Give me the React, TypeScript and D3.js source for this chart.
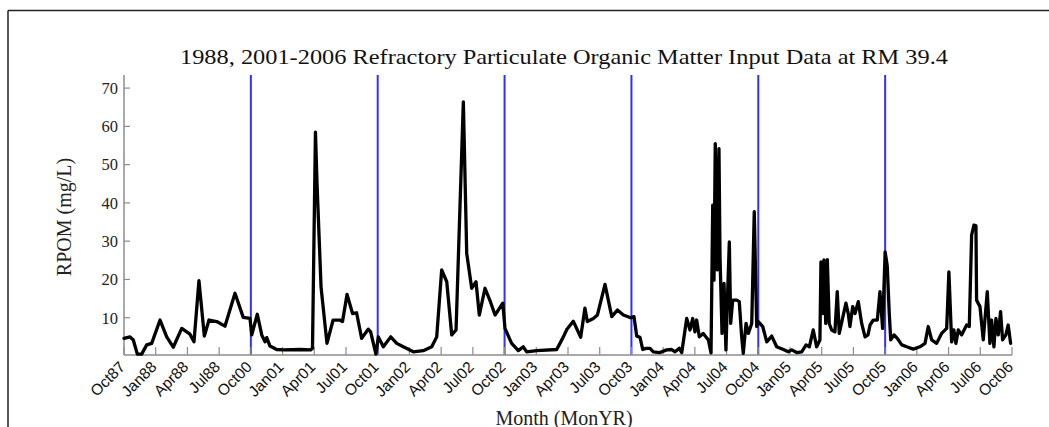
import React from 'react';
import * as d3 from 'd3';

// Water years plotted (compressed axis: each year = 12 months, starting in October)
const waterYears = [1988, 2001, 2002, 2003, 2004, 2005, 2006];

const tickLabels = [
  'Oct87', 'Jan88', 'Apr88', 'Jul88', 'Oct00', 'Jan01', 'Apr01', 'Jul01', 'Oct01',
  'Jan02', 'Apr02', 'Jul02', 'Oct02', 'Jan03', 'Apr03', 'Jul03', 'Oct03', 'Jan04',
  'Apr04', 'Jul04', 'Oct04', 'Jan05', 'Apr05', 'Jul05', 'Oct05', 'Jan06', 'Apr06',
  'Jul06', 'Oct06',
];

const yTicks = [10, 20, 30, 40, 50, 60, 70];

// months since Oct 1 of each water year, and RPOM (mg/L)
const months1988 = [0, 0.57, 0.88, 1.26, 1.67, 2.15, 2.62, 3.41, 4.04, 4.66, 5.46, 6.24, 6.62, 7.09, 7.6, 8.04, 8.77, 9.55, 10.5, 11.28, 11.92];
const rpom1988 = [4.6, 5.0, 4.2, 0.5, 0.5, 2.9, 3.3, 9.4, 5.0, 2.3, 7.2, 5.7, 3.7, 19.7, 5.2, 9.4, 9.0, 7.8, 16.4, 10.1, 9.8];

const months2001 = [0.08, 0.61, 1.03, 1.34, 1.5, 1.81, 2.44, 3.07, 4.65, 5.66, 5.83, 6.11, 6.26, 6.64, 7.2, 7.78, 8.4, 8.67, 9.1, 9.62, 10.0, 10.48, 11.1, 11.33, 11.83];
const rpom2001 = [5.5, 10.9, 5.5, 3.7, 4.8, 2.6, 1.7, 1.6, 1.7, 1.6, 2.0, 58.5, 45, 18, 3.3, 9.4, 9.4, 9.0, 16.1, 11.1, 11.3, 4.6, 7.0, 6.3, 0.5];

const months2002 = [0.06, 0.53, 1.23, 1.8, 2.42, 3.37, 4.31, 5.11, 5.58, 6.05, 6.53, 7.0, 7.41, 8.1, 8.42, 8.89, 9.3, 9.61, 10.15, 10.62, 11.1, 11.83];
const rpom2002 = [5.0, 2.4, 5.0, 3.3, 2.4, 1.1, 1.4, 2.4, 5.0, 22.5, 19.4, 5.5, 6.8, 66.4, 26.8, 17.7, 19.4, 10.7, 17.7, 14.5, 10.7, 13.8];

const months2003 = [0.04, 0.67, 1.3, 1.77, 2.09, 3.04, 4.93, 5.24, 5.56, 5.9, 6.5, 7.2, 7.6, 7.83, 8.4, 8.78, 9.5, 10.14, 10.67, 11.24, 11.93];
const rpom2003 = [7.2, 3.3, 1.4, 2.4, 1.1, 1.4, 1.7, 3.3, 5.0, 7.0, 9.1, 4.9, 12.5, 9.0, 9.8, 10.7, 18.7, 10.3, 12.0, 10.7, 10.0];

const months2004 = [0.24, 0.5, 0.81, 1.07, 1.38, 1.76, 2.07, 2.7, 3.34, 3.81, 4.12, 4.53, 4.76, 5.23, 5.54, 5.8, 6.01, 6.17, 6.42, 6.79, 7.28, 7.53, 7.69, 7.81, 7.93, 8.12, 8.28, 8.38, 8.57, 8.76, 8.94, 9.07, 9.26, 9.39, 9.58, 9.96, 10.2, 10.43, 10.58, 10.84, 11.06, 11.38, 11.62, 11.85];
const rpom2004 = [10.3, 5.2, 4.9, 1.7, 2.0, 2.0, 1.1, 0.9, 1.6, 1.7, 1.1, 2.0, 0.9, 9.8, 6.8, 9.8, 6.3, 9.4, 5.0, 5.9, 4.2, 0.8, 39.4, 19.8, 55.5, 22.5, 54.2, 25.9, 5.9, 19.0, 1.6, 13.8, 29.8, 8.5, 14.6, 14.6, 14.2, 5.0, 0.7, 8.5, 5.9, 8.5, 37.7, 7.7];

const months2005 = [0.0, 0.42, 0.8, 1.27, 1.74, 2.37, 2.84, 3.16, 3.63, 4.11, 4.52, 4.83, 5.2, 5.52, 5.83, 5.93, 6.09, 6.21, 6.38, 6.53, 6.71, 6.94, 7.25, 7.47, 7.66, 8.04, 8.29, 8.51, 8.67, 8.93, 9.15, 9.46, 9.78, 10.1, 10.38, 10.57, 10.88, 11.26, 11.51, 11.76];
const rpom2005 = [9.0, 7.7, 3.7, 5.2, 2.4, 1.7, 1.1, 1.6, 0.9, 1.1, 2.9, 2.4, 6.8, 2.4, 4.2, 24.6, 11.1, 25.1, 8.5, 25.2, 8.5, 6.8, 6.3, 16.8, 5.9, 10.7, 13.8, 11.1, 7.7, 12.9, 11.1, 14.2, 8.5, 5.0, 5.5, 8.1, 9.4, 9.4, 16.8, 7.2];

const months2006 = [0.0, 0.2, 0.39, 0.53, 0.84, 1.15, 1.57, 2.04, 2.66, 3.29, 3.77, 4.08, 4.4, 4.87, 5.34, 5.82, 6.03, 6.29, 6.5, 6.69, 6.92, 7.23, 7.71, 7.96, 8.18, 8.4, 8.59, 8.65, 8.97, 9.28, 9.66, 9.91, 10.07, 10.29, 10.48, 10.7, 10.92, 11.11, 11.42, 11.64, 11.87];
const rpom2006 = [27.2, 23.5, 11.1, 4.2, 5.5, 4.6, 2.9, 2.4, 1.8, 2.4, 3.3, 7.7, 4.2, 3.3, 5.9, 7.2, 22.0, 3.7, 6.8, 3.3, 6.8, 5.5, 8.1, 7.7, 31.6, 34.2, 34.0, 14.6, 12.9, 4.2, 16.8, 3.3, 9.4, 2.4, 9.8, 5.5, 11.6, 4.2, 5.5, 8.1, 3.3];

const monthSeries = [months1988, months2001, months2002, months2003, months2004, months2005, months2006];
const valueSeries = [rpom1988, rpom2001, rpom2002, rpom2003, rpom2004, rpom2005, rpom2006];

const title = '1988, 2001-2006 Refractory Particulate Organic Matter Input Data at RM 39.4';

export default function App() {
  const W = 1049;
  const H = 427;
  const left = 124;
  const right = 1012;
  const axisTop = 75;
  const axisBottom = 355;

  const x = d3.scaleLinear().domain([0, waterYears.length * 12]).range([left, right]);
  const y = d3.scaleLinear().domain([0, 70]).range([356, 88.1]);

  const points: [number, number][] = [];
  monthSeries.forEach((ms, k) => {
    ms.forEach((m, i) => points.push([k * 12 + m, valueSeries[k][i]]));
  });

  const line = d3
    .line<[number, number]>()
    .x((d) => x(d[0]))
    .y((d) => Math.min(y(d[1]), axisBottom))
    .curve(d3.curveLinear);

  const axisColor = '#8c8c8c';
  const serif = '"Liberation Serif", "Times New Roman", serif';
  const sans = '"Liberation Sans", Arial, sans-serif';

  return (
    <svg
      width={W}
      height={H}
      style={{ position: 'absolute', left: 0, top: 0, background: '#fff' }}
    >
      <rect x={0} y={0} width={W} height={H} fill="#fff" />
      {/* outer frame */}
      <line x1={8} x2={8} y1={10.5} y2={H} stroke="#222" strokeWidth={1.5} />
      <line x1={8} x2={W} y1={10.5} y2={10.5} stroke="#222" strokeWidth={1.5} />

      {/* title */}
      <text
        x={564}
        y={64}
        textAnchor="middle"
        fontFamily={serif}
        fontSize={22}
        fill="#111"
        textLength={768}
        lengthAdjust="spacingAndGlyphs"
      >
        {title}
      </text>

      {/* water-year separators */}
      {waterYears.slice(1).map((wy, k) => (
        <line
          key={wy}
          x1={x((k + 1) * 12)}
          x2={x((k + 1) * 12)}
          y1={axisTop}
          y2={axisBottom}
          stroke="#3030ff"
          strokeWidth={2}
        />
      ))}

      {/* axes */}
      <line x1={left} x2={left} y1={axisTop} y2={axisBottom} stroke={axisColor} strokeWidth={1.5} />
      <line x1={left} x2={right} y1={axisBottom} y2={axisBottom} stroke={axisColor} strokeWidth={1.5} />

      {yTicks.map((t) => (
        <g key={t}>
          <line x1={left} x2={left + 6} y1={y(t)} y2={y(t)} stroke={axisColor} strokeWidth={1.2} />
          <text
            x={118}
            y={y(t)}
            dy="0.35em"
            textAnchor="end"
            fontFamily={serif}
            fontSize={16.5}
            fill="#222"
          >
            {t}
          </text>
        </g>
      ))}

      {tickLabels.map((lab, i) => {
        const tx = x(i * 3);
        return (
          <g key={lab}>
            <line x1={tx} x2={tx} y1={axisBottom} y2={axisBottom - 8} stroke={axisColor} strokeWidth={1.2} />
            <text
              transform={`translate(${tx + 2},${368}) rotate(-45)`}
              textAnchor="end"
              fontFamily={sans}
              fontSize={15.5}
              fill="#111"
            >
              {lab}
            </text>
          </g>
        );
      })}

      {/* data line */}
      <path
        d={line(points) || ''}
        fill="none"
        stroke="#000"
        strokeWidth={3.3}
        strokeLinejoin="round"
        strokeLinecap="round"
      />

      {/* axis titles */}
      <text
        transform={`translate(71,217) rotate(-90)`}
        textAnchor="middle"
        fontFamily={serif}
        fontSize={20}
        fill="#222"
      >
        RPOM (mg/L)
      </text>
      <text x={564} y={425} textAnchor="middle" fontFamily={serif} fontSize={20} fill="#222">
        Month (MonYR)
      </text>
    </svg>
  );
}
